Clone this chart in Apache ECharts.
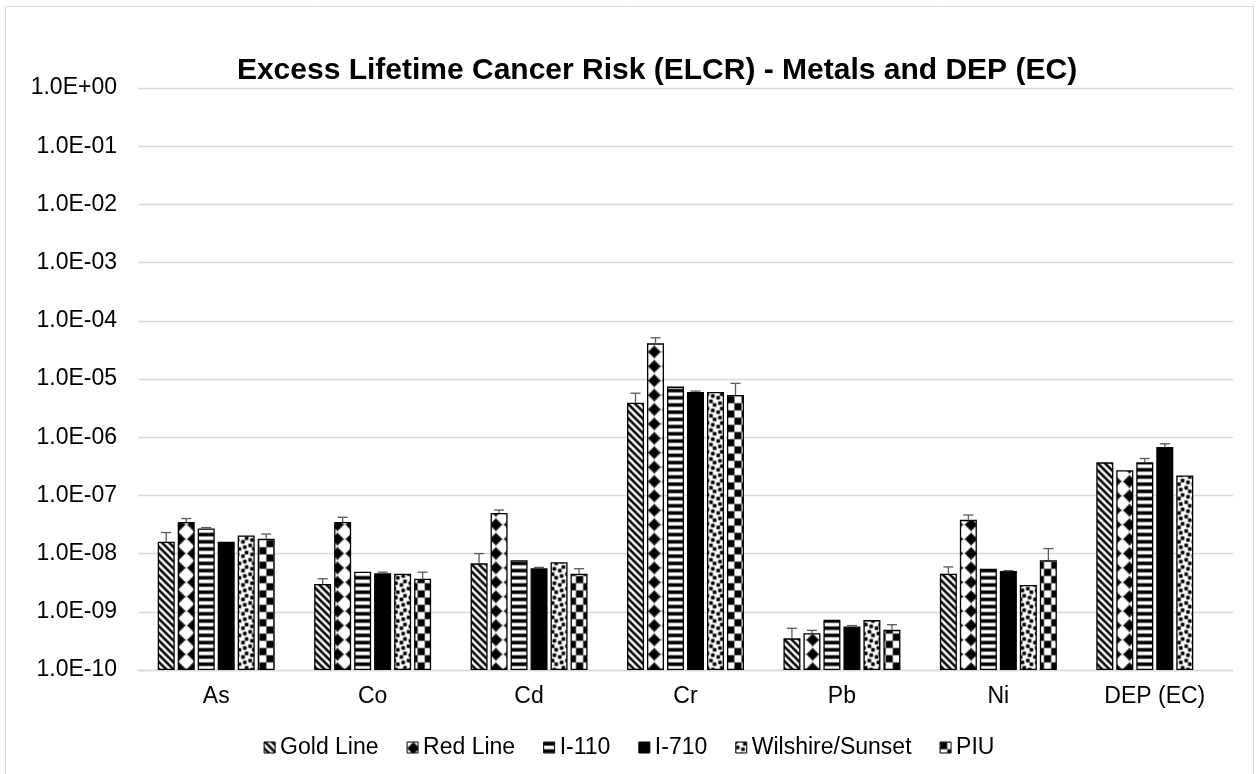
<!DOCTYPE html>
<html>
<head>
<meta charset="utf-8">
<script src="https://cdn.jsdelivr.net/npm/echarts@6/dist/echarts.min.js"></script>
<style>
  html, body { margin: 0; padding: 0; background: #fff; }
  #chart { width: 1258px; height: 774px; }
</style>
</head>
<body>
<div id="chart"></div>
<script>
// Categories and series (ELCR values, with upper error-bar ends)
const categories = ['As', 'Co', 'Cd', 'Cr', 'Pb', 'Ni', 'DEP (EC)'];
const seriesNames = ['Gold Line', 'Red Line', 'I-110', 'I-710', 'Wilshire/Sunset', 'PIU'];

const goldLine   = [1.6e-8, 3.0e-9, 6.8e-9, 3.9e-6, 3.5e-10, 4.5e-9, 3.7e-7];
const goldLineHi = [2.3e-8, 3.7e-9, 1.0e-8, 5.7e-6, 5.2e-10, 5.9e-9, null];

const redLine    = [3.5e-8, 3.5e-8, 5.0e-8, 4.1e-5, 4.3e-10, 3.8e-8, 2.7e-7];
const redLineHi  = [4.0e-8, 4.2e-8, 5.6e-8, 5.1e-5, 4.8e-10, 4.6e-8, null];

const i110       = [2.7e-8, 4.9e-9, 7.7e-9, 7.4e-6, 7.3e-10, 5.5e-9, 3.7e-7];
const i110Hi     = [2.8e-8, null, null, null, null, null, 4.3e-7];

const i710       = [1.6e-8, 4.6e-9, 5.6e-9, 6.0e-6, 5.6e-10, 5.0e-9, 6.8e-7];
const i710Hi     = [null, 4.8e-9, 5.8e-9, 6.2e-6, 5.8e-10, 5.1e-9, 7.7e-7];

const wilshire   = [2.05e-8, 4.5e-9, 7.1e-9, 6.0e-6, 7.2e-10, 2.9e-9, 2.2e-7];
const wilshireHi = [null, null, null, null, null, null, null];

const piu        = [1.8e-8, 3.7e-9, 4.5e-9, 5.3e-6, 4.9e-10, 7.7e-9, null];
const piuHi      = [2.17e-8, 4.8e-9, 5.5e-9, 8.4e-6, 6.0e-10, 1.22e-8, null];

const yMin = 1e-10;
const yMax = 1;

const FONT = '"Liberation Sans", Arial, sans-serif';

// 8x8 hatch bitmaps, scaled up into a repeating canvas pattern
function hatch(bit) {
  const n = 56;
  const src = document.createElement('canvas');
  src.width = src.height = n;
  const s = src.getContext('2d');
  s.fillStyle = '#fff';
  s.fillRect(0, 0, n, n);
  s.fillStyle = '#000';
  for (let r = 0; r < n; r++) {
    for (let c = 0; c < n; c++) {
      if (bit(r % 8, c % 8)) s.fillRect(c, r, 1, 1);
    }
  }
  const out = document.createElement('canvas');
  out.width = out.height = 72;
  const o = out.getContext('2d');
  o.imageSmoothingEnabled = true;
  o.imageSmoothingQuality = 'high';
  o.drawImage(src, 8, 8, 40, 40, 0, 0, 72, 72);
  return { image: out, repeat: 'repeat' };
}

const diamondRows = [0x10, 0x38, 0x7c, 0xfe, 0x7c, 0x38, 0x10, 0x00];
const confettiRows = [0x8d, 0x0c, 0xc0, 0xd8, 0x1b, 0x03, 0x30, 0xb1];
const rowBit = (rows) => (r, c) => ((rows[r] >> (7 - c)) & 1) === 1;

const fills = [
  hatch((r, c) => ((c - r + 16) % 4) < 2),            // downward diagonal
  hatch(rowBit(diamondRows)),                          // solid diamond
  hatch((r, c) => (r % 4) < 2),                        // horizontal bands
  '#000',                                              // solid
  hatch(rowBit(confettiRows)),                         // confetti
  hatch((r, c) => ((Math.floor(r / 4) + Math.floor(c / 4)) % 2) === 0) // checker board
];

const values = [goldLine, redLine, i110, i710, wilshire, piu];
const highs = [goldLineHi, redLineHi, i110Hi, i710Hi, wilshireHi, piuHi];

const BAR_W = 17;
const BAR_GAP = 3;

const barSeries = seriesNames.map((name, k) => ({
  type: 'bar',
  name: name,
  data: values[k],
  barWidth: BAR_W,
  barGap: (BAR_GAP / BAR_W * 100).toFixed(1) + '%',
  itemStyle: { color: fills[k], borderColor: '#000', borderWidth: 1.3 },
  emphasis: { disabled: true },
  z: 2
}));

// Plus-direction error bars with a cap, aligned over each bar
const errorSeries = seriesNames.map((name, k) => ({
  type: 'custom',
  name: name + ' (error)',
  silent: true,
  z: 3,
  data: categories
    .map((c, i) => (highs[k][i] == null || values[k][i] == null) ? null : [i, values[k][i], highs[k][i]])
    .filter(d => d !== null),
  renderItem: function (params, api) {
    const base = api.coord([api.value(0), api.value(1)]);
    const top = api.coord([api.value(0), api.value(2)]);
    const x = base[0] + (k - (seriesNames.length - 1) / 2) * (BAR_W + BAR_GAP);
    const st = { stroke: '#595959', lineWidth: 1.3 };
    return {
      type: 'group',
      children: [
        { type: 'line', shape: { x1: x, y1: base[1], x2: x, y2: top[1] }, style: st },
        { type: 'line', shape: { x1: x - 5, y1: top[1], x2: x + 5, y2: top[1] }, style: st }
      ]
    };
  }
}));

function sciLabel(v) {
  const e = Math.round(Math.log10(v));
  return '1.0E' + (e < 0 ? '-' : '+') + String(Math.abs(e)).padStart(2, '0');
}

const chart = echarts.init(document.getElementById('chart'), null, { renderer: 'canvas' });
chart.setOption({
  animation: false,
  backgroundColor: '#fff',
  textStyle: { fontFamily: FONT },
  title: {
    text: 'Excess Lifetime Cancer Risk (ELCR) - Metals and DEP (EC)',
    left: 652,
    top: 51,
    textAlign: 'center',
    textStyle: { fontSize: 30, fontWeight: 'bold', color: '#000', fontFamily: FONT }
  },
  graphic: [{
    type: 'rect',
    shape: { x: 5.5, y: 6.5, width: 1248, height: 820 },
    style: { fill: 'none', stroke: '#d9d9d9', lineWidth: 1 },
    silent: true,
    z: -1
  }],
  legend: {
    data: seriesNames,
    left: 'center',
    top: 731,
    icon: 'rect',
    itemWidth: 11,
    itemHeight: 11,
    itemGap: 28,
    itemStyle: { borderColor: '#000', borderWidth: 1 },
    textStyle: { fontSize: 23, color: '#000', fontFamily: FONT }
  },
  grid: { left: 138, right: 25, top: 88, bottom: 104, containLabel: false, outerBoundsMode: 'none' },
  xAxis: {
    type: 'category',
    data: categories,
    axisTick: { show: false },
    axisLine: { lineStyle: { color: '#d9d9d9', width: 1.3 } },
    axisLabel: { fontSize: 23, color: '#000', margin: 15, fontFamily: FONT }
  },
  yAxis: {
    type: 'log',
    logBase: 10,
    min: yMin,
    max: yMax,
    startValue: yMin,
    interval: 1,
    axisLine: { show: false },
    axisTick: { show: false },
    splitLine: { lineStyle: { color: '#d9d9d9', width: 1.3 } },
    axisLabel: { fontSize: 23, color: '#000', margin: 21, fontFamily: FONT, formatter: sciLabel }
  },
  series: barSeries.concat(errorSeries)
});
</script>
</body>
</html>
